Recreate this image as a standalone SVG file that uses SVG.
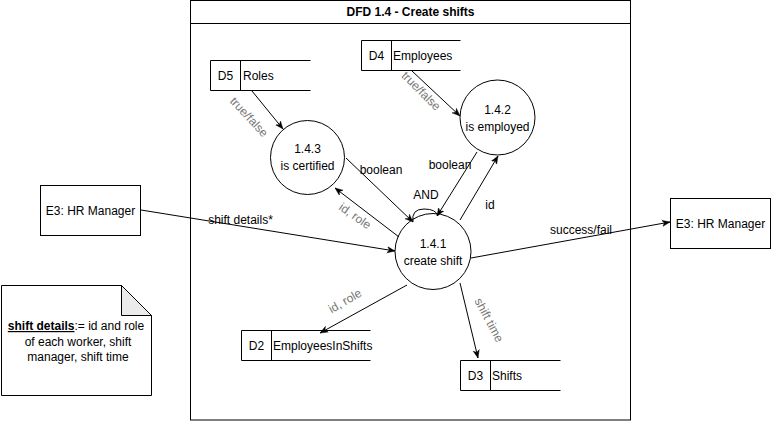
<svg xmlns="http://www.w3.org/2000/svg" width="771" height="421" viewBox="0 0 771 421">
<style>
text{font-family:"Liberation Sans",Arial,sans-serif;font-size:12px;fill:#000}
.c{text-anchor:middle}
.g{fill:#777}
.s{fill:#fff;stroke:#000;stroke-width:1}
.ln{fill:none;stroke:#000;stroke-width:1}
.e{fill:none;stroke:#000;stroke-width:1;marker-end:url(#arr)}
</style>
<defs>
<marker id="arr" viewBox="0 0 10 10" refX="10" refY="5" markerWidth="8" markerHeight="8" orient="auto" markerUnits="userSpaceOnUse">
<path d="M0,1 L10,5 L0,9 L3,5 Z" fill="#000" stroke="#000" stroke-width="0.5"/>
</marker>
</defs>
<rect width="771" height="421" fill="#fff"/>

<g id="frame">
<rect class="s" x="190.5" y="0.5" width="440" height="419.5"/>
<line class="ln" x1="190.5" y1="23.5" x2="630.5" y2="23.5"/>
<text class="c" x="410.5" y="16" font-weight="bold">DFD 1.4 - Create shifts</text>
</g>

<g id="note">
<path class="s" d="M1.5,285.5 H121.5 L151.5,315.5 V395.5 H1.5 Z"/>
<path d="M121.5,285.5 V315.5 H151.5 Z" fill="#ebebeb" stroke="#000" stroke-width="1"/>
<text class="c" x="76" y="330"><tspan font-weight="bold" text-decoration="underline">shift details</tspan>:= id and role</text>
<text class="c" x="78" y="346">of each worker, shift</text>
<text class="c" x="78" y="361">manager, shift time</text>
</g>

<g id="e3-left">
<rect class="s" x="40.5" y="185.5" width="100" height="50"/>
<text class="c" x="90.5" y="215">E3: HR Manager</text>
</g>

<g id="e3-right">
<rect class="s" x="670.5" y="198.5" width="100" height="50"/>
<text class="c" x="720.5" y="228">E3: HR Manager</text>
</g>

<g id="d5">
<path class="ln" d="M310.5,60.5 H210.5 V90.5 H310.5 M240.5,60.5 V90.5"/>
<text class="c" x="225.5" y="80">D5</text>
<text x="243" y="80">Roles</text>
</g>

<g id="d4">
<path class="ln" d="M460.5,40.5 H361.5 V70.5 H460.5 M391.5,40.5 V70.5"/>
<text class="c" x="376.5" y="60">D4</text>
<text x="393" y="60">Employees</text>
</g>

<g id="d2">
<path class="ln" d="M370.5,330.5 H241.5 V360.5 H370.5 M271.5,330.5 V360.5"/>
<text class="c" x="256.5" y="350">D2</text>
<text x="273" y="350">EmployeesInShifts</text>
</g>

<g id="d3">
<path class="ln" d="M560.5,360.5 H460.5 V390.5 H560.5 M490.5,360.5 V390.5"/>
<text class="c" x="475.5" y="380">D3</text>
<text x="492" y="380">Shifts</text>
</g>

<g id="p143">
<circle class="s" cx="307.5" cy="157.5" r="37"/>
<text class="c" x="307.5" y="153">1.4.3</text>
<text class="c" x="307.5" y="170">is certified</text>
</g>

<g id="p142">
<circle class="s" cx="497.5" cy="117.5" r="37.5"/>
<text class="c" x="497.5" y="114">1.4.2</text>
<text class="c" x="497.5" y="131">is employed</text>
</g>

<g id="p141">
<circle class="s" cx="433" cy="251.5" r="38"/>
<text class="c" x="433" y="248">1.4.1</text>
<text class="c" x="433" y="265">create shift</text>
</g>

<g id="connectors">
<line class="e" x1="252" y1="91" x2="283" y2="129"/>
<text class="c g" transform="translate(249,117) rotate(47)" y="4">true/false</text>

<line class="e" x1="412" y1="71" x2="460" y2="116"/>
<text class="c g" transform="translate(421,91) rotate(45)" y="4">true/false</text>

<line class="e" x1="346" y1="158" x2="413" y2="222"/>
<text class="c" x="381" y="174">boolean</text>

<line class="e" x1="477" y1="152" x2="437" y2="216"/>
<text class="c" x="450" y="169">boolean</text>

<path class="ln" d="M413,222 Q411,209 424,209 Q436,209 438,216"/>
<text class="c" x="426" y="199">AND</text>

<line class="e" x1="399" y1="237" x2="335" y2="188"/>
<text class="c g" transform="translate(355,216) rotate(35)" y="4">id, role</text>

<line class="e" x1="460" y1="220" x2="498" y2="156"/>
<text class="c" x="490" y="209">id</text>

<line class="e" x1="141" y1="210" x2="395" y2="251"/>
<text class="c" x="240.5" y="224">shift details*</text>

<line class="e" x1="471" y1="258" x2="670" y2="222"/>
<text class="c" x="581" y="234">success/fail</text>

<line class="e" x1="407" y1="285" x2="320" y2="333"/>
<text class="c g" transform="translate(345,301) rotate(-30)" y="4">id, role</text>

<line class="e" x1="460" y1="283" x2="478" y2="358"/>
<text class="c g" transform="translate(489,320) rotate(62)" y="4">shift time</text>
</g>
</svg>
